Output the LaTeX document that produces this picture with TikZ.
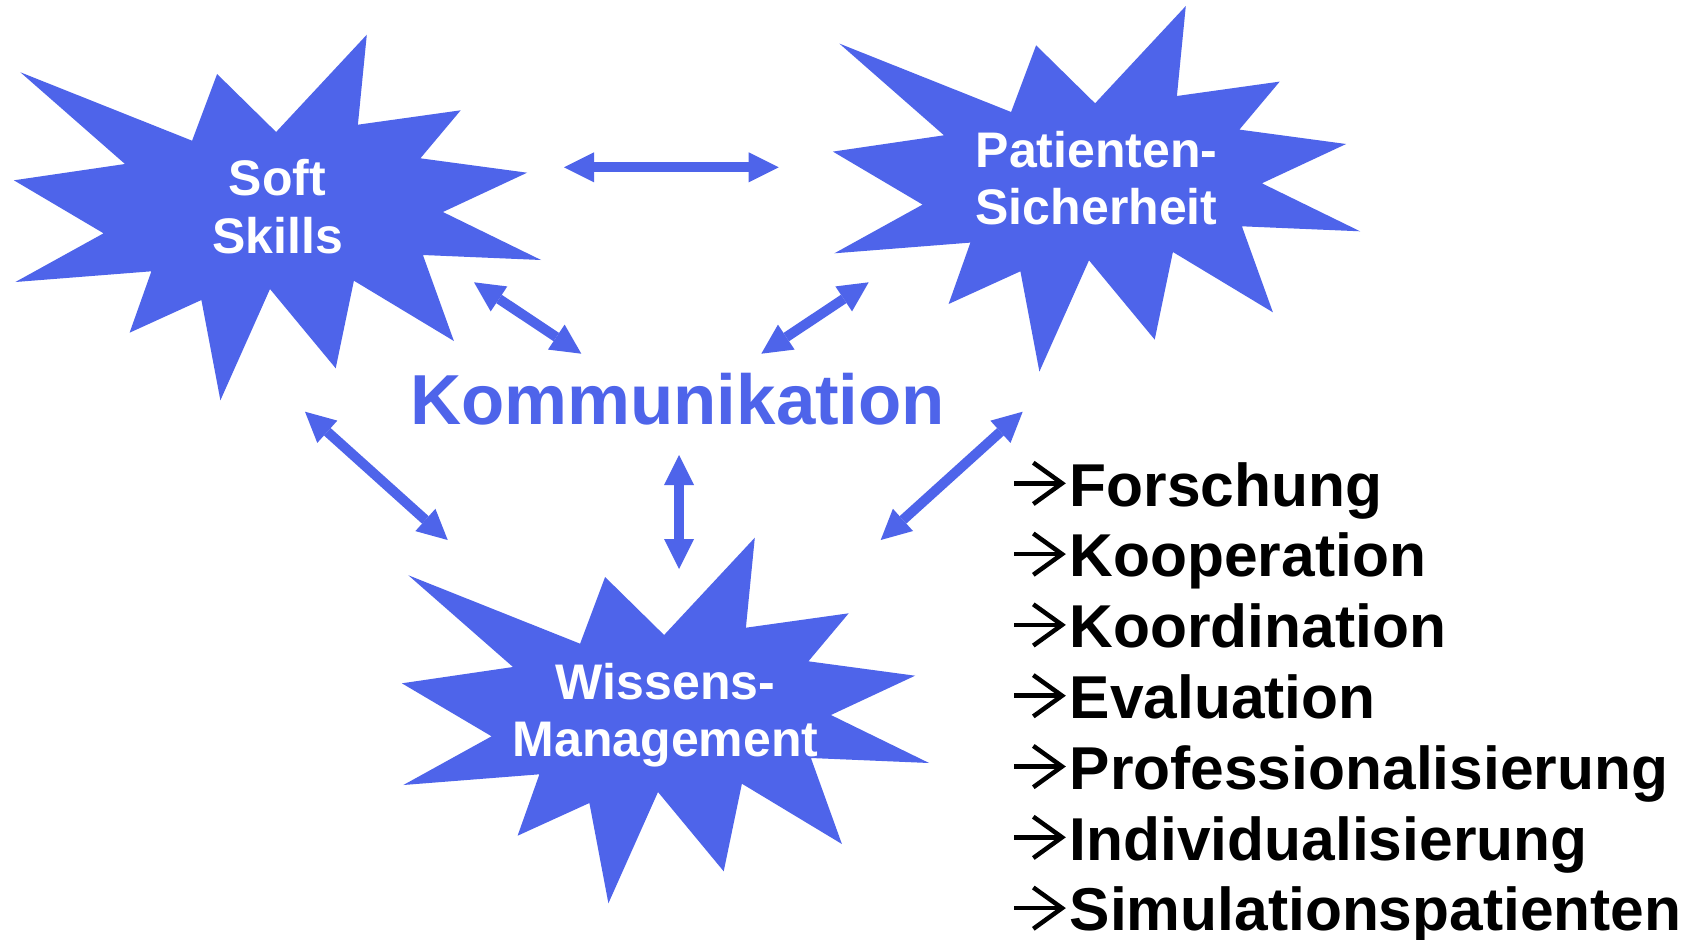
\documentclass[tikz,border=0pt]{standalone}
\usepackage{fontspec}
\setmainfont{Liberation Sans}
\usetikzlibrary{arrows.meta}
\definecolor{kblue}{RGB}{78,100,234}
\tikzset{
  explosion/.pic={
    \fill[kblue] (20.4,72.3) -- (192.1,140.7) -- (217.1,74) -- (276.1,132) -- (366.8,34.7)
      -- (357.9,124.7) -- (460.7,110.3) -- (420.4,158.3) -- (527.1,172.7) -- (442.9,212)
      -- (541.1,260) -- (422.9,255) -- (453.9,341) -- (353.9,280.7) -- (335.7,368.3)
      -- (270,289) -- (220.4,400.3) -- (201.4,300) -- (129.6,332.7) -- (151.4,271.3)
      -- (15.4,282) -- (103.6,233.3) -- (13.9,180.3) -- (125,164) -- cycle;
  },
  bursttext/.style={text=white, font=\bfseries\fontsize{50}{57.3}\selectfont,
    align=center, inner sep=0pt, anchor=base},
  dbl/.style={draw=kblue, fill=kblue, line width=10pt, {Triangle[length=30pt,width=30pt,line width=0pt]}-{Triangle[length=30pt,width=30pt,line width=0pt]}},
  item/.style={font=\bfseries\fontsize{60.5}{60.5}\selectfont, inner sep=0pt, anchor=base west},
  listarrow/.style={draw=black, line width=4.5pt, miter limit=10},
}
\begin{document}
\begin{tikzpicture}[x=1pt,y=-1pt]
\useasboundingbox[fill=white] (0,0) rectangle (1698,940);
% bursts
\pic at (0,0) {explosion};
\pic at (819,-28.7) {explosion};
\pic at (388,503) {explosion};
\node[bursttext] (soft) at (277.5,253) {Soft\\Skills};
\node[bursttext] (pat) at (1096.5,224.3) {Patienten-\\Sicherheit};
\node[bursttext] (wis) at (665.5,756.3) {Wissens-\\Management};
% centre word
\node[text=kblue, font=\bfseries\fontsize{70.8}{70.8}\selectfont, inner sep=0pt, anchor=base west] (komm) at (410,424.3) {Kommunikation};
% arrows
\coordinate (h1) at (564,167.3);   \coordinate (h2) at (778.7,167.3);
\coordinate (sk1) at (474,282.3);  \coordinate (sk2) at (581.3,353.7);
\coordinate (pk1) at (868.7,282.3);\coordinate (pk2) at (761.3,353.7);
\coordinate (v1) at (679,455);     \coordinate (v2) at (679,569);
\coordinate (sw1) at (305,411.7);  \coordinate (sw2) at (447.7,540);
\coordinate (pw1) at (1022.7,411.7);\coordinate (pw2) at (880.7,540);
\draw[dbl] (h1) -- (h2);
\draw[dbl] (sk1) -- (sk2);
\draw[dbl] (pk1) -- (pk2);
\draw[dbl] (v1) -- (v2);
\draw[dbl] (sw1) -- (sw2);
\draw[dbl] (pw1) -- (pw2);
% list
\node[item] (l1) at (1069.5,506) {Forschung};
\node[item] (l2) at (1069.5,576.8) {Kooperation};
\node[item] (l3) at (1069.5,647.6) {Koordination};
\node[item] (l4) at (1069.5,718.4) {Evaluation};
\node[item] (l5) at (1069.5,789.2) {Professionalisierung};
\node[item] (l6) at (1069.5,860) {Individualisierung};
\node[item] (l7) at (1069.5,930.8) {Simulationspatienten};
\foreach \b in {506,576.8,647.6,718.4,789.2,860,930.8}{
  \draw[listarrow] (1014,\b-22.7) -- (1061,\b-22.7);
  \draw[listarrow] (1033.3,\b-43.3) -- (1062,\b-22.7) -- (1033.3,\b-2);
}
\end{tikzpicture}
\end{document}
